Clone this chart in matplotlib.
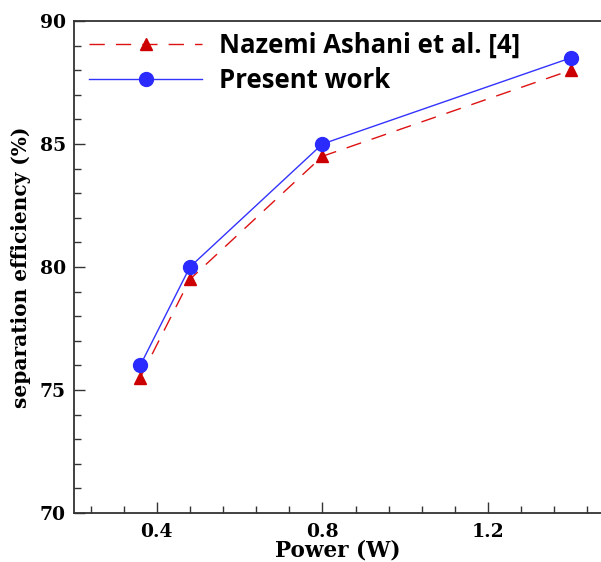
import matplotlib
matplotlib.use('Agg')
import matplotlib.pyplot as plt
from matplotlib.ticker import MultipleLocator

# data
power_ref = [0.36, 0.48, 0.80, 1.40]
eff_ref = [75.5, 79.5, 84.5, 88.0]
power_present = [0.36, 0.48, 0.80, 1.40]
eff_present = [76.0, 80.0, 85.0, 88.5]

label_ref = 'Nazemi Ashani et al. [4]'
label_present = 'Present work'

fig = plt.figure(figsize=(6.01, 5.62), dpi=100)
ax = fig.add_axes([74 / 601, 49 / 562, 1 - 74 / 601, (513 - 21) / 562])

ax.plot(power_ref, eff_ref, linestyle=(0, (11, 8)), color='#dd1111', linewidth=1.0,
        marker='^', markersize=8, markerfacecolor='#cc0000', markeredgecolor='#cc0000',
        label=label_ref)
ax.plot(power_present, eff_present, linestyle='-', color='#3333ff', linewidth=1.0,
        marker='o', markersize=10, markerfacecolor='#2b2bff', markeredgecolor='#2b2bff',
        label=label_present)

ax.set_xlim(0.2, 1.473)
ax.set_ylim(70, 90)
ax.xaxis.set_major_locator(MultipleLocator(0.4))
ax.xaxis.set_minor_locator(MultipleLocator(0.08))
ax.yaxis.set_major_locator(MultipleLocator(5))
ax.yaxis.set_minor_locator(MultipleLocator(1))
ax.tick_params(which='both', direction='in', top=False, right=False, width=1.0, color='#333333')
ax.tick_params(which='major', length=8, labelsize=13.5)
ax.tick_params(axis='x', which='major', pad=7)
ax.tick_params(axis='y', which='major', pad=6)
ax.tick_params(which='minor', length=5)
ax.spines['right'].set_visible(False)
for s in ['left', 'bottom', 'top']:
    ax.spines[s].set_linewidth(1.3)
    ax.spines[s].set_color('#333333')

for lab in ax.get_xticklabels() + ax.get_yticklabels():
    lab.set_fontfamily('DejaVu Serif')
    lab.set_fontweight('bold')

ax.set_xlabel('Power (W)', fontfamily='DejaVu Serif', fontweight='bold', fontsize=15.5, labelpad=-1)
ax.set_ylabel('separation efficiency (%)', fontfamily='DejaVu Serif', fontweight='bold',
              fontsize=14.5, labelpad=6)

leg = ax.legend(loc='upper left', bbox_to_anchor=(89 / 601, 1 - 32 / 562),
                bbox_transform=fig.transFigure, frameon=False, borderpad=0,
                borderaxespad=0, handlelength=4.4, handletextpad=0.65, labelspacing=0.3,
                prop={'family': 'Open Sans', 'weight': 'bold', 'size': 18.5})

fig.savefig('out.png', dpi=100)
